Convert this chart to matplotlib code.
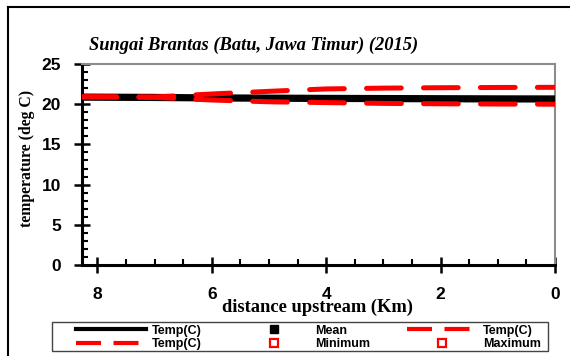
import matplotlib
matplotlib.use("Agg")
import matplotlib.pyplot as plt
from matplotlib.lines import Line2D
from matplotlib.patches import Rectangle
from matplotlib.ticker import MultipleLocator
from matplotlib.font_manager import FontProperties

plt.rcParams['lines.scale_dashes'] = False

# data
distance = [8.27, 7.0, 6.0, 5.0, 4.0, 3.0, 2.0, 1.0, 0.0]
temp_mean = [20.88, 20.84, 20.78, 20.75, 20.72, 20.70, 20.68, 20.66, 20.65]
temp_max = [20.92, 20.9, 21.27, 21.6, 21.9, 22.0, 22.05, 22.08, 22.1]
temp_min = [20.92, 20.85, 20.52, 20.3, 20.2, 20.1, 20.05, 20.02, 20.0]
x_ticks = [8, 6, 4, 2, 0]
y_ticks = [0, 5, 10, 15, 20, 25]
title = "Sungai Brantas (Batu, Jawa Timur) (2015)"

W, H = 570, 356
fig = plt.figure(figsize=(W / 100, H / 100), dpi=100)
ax = fig.add_axes([82 / W, 1 - 265 / H, (555 - 82) / W, (265 - 64) / H])

dash = (25, 16)
ax.plot(distance, temp_mean, color='black', lw=5.2, solid_capstyle='butt', zorder=3)
ax.plot(distance, temp_max, color='#ff0000', lw=3.6, dashes=dash,
        dash_capstyle='round', zorder=4)
ax.plot(distance, temp_min, color='#ff0000', lw=3.6, dashes=dash,
        dash_capstyle='round', zorder=4)

ax.set_xlim(8.27, 0)
ax.set_ylim(0, 25)
ax.set_xticks(x_ticks)
ax.set_yticks(y_ticks)
ax.xaxis.set_minor_locator(MultipleLocator(0.5))
ax.yaxis.set_minor_locator(MultipleLocator(1))

narrow = ['Liberation Sans Narrow', 'Liberation Sans']
tickfp = FontProperties(family=narrow, weight='bold', size=12.5)
ax.tick_params(which='major', direction='inout', length=12, width=1.8, color='black')
ax.tick_params(which='minor', direction='in', length=4, width=1.5, color='black')
ax.tick_params(axis='y', which='major', pad=9)
ax.tick_params(axis='x', which='major', pad=10)
for lbl in ax.get_xticklabels() + ax.get_yticklabels():
    lbl.set_fontproperties(tickfp)

for s in ['left', 'bottom']:
    ax.spines[s].set_linewidth(2.2)
    ax.spines[s].set_color('black')
for s in ['top', 'right']:
    ax.spines[s].set_linewidth(1.5)
    ax.spines[s].set_color('#8c8c8c')

fig.text(27 / W, 1 - 158 / H, "temperature (deg C)", family='Liberation Serif',
         weight='bold', fontsize=11.3, rotation=90, ha='center', va='center')
fig.text(318 / W, 1 - 307 / H, "distance upstream (Km)", family='Liberation Serif',
         weight='bold', fontsize=13.3, ha='center', va='center')
fig.text(89 / W, 1 - 45 / H, title, family='Liberation Serif', weight='bold',
         style='italic', fontsize=13.3, ha='left', va='center')

# legend
h_mean_line = Line2D([], [], color='black', lw=3)
h_dash1 = Line2D([], [], color='#ff0000', lw=3, dashes=(18, 9))
h_dash2 = Line2D([], [], color='#ff0000', lw=3, dashes=(18, 9))
h_mean = Line2D([], [], color='black', marker='s', ls='none', markersize=6)
h_min = Line2D([], [], color='#ff0000', marker='s', ls='none', markersize=5.5,
               markerfacecolor='white', markeredgewidth=1.6)
h_max = Line2D([], [], color='#ff0000', marker='s', ls='none', markersize=5.5,
               markerfacecolor='white', markeredgewidth=1.6)
handles = [h_mean_line, h_dash2, h_mean, h_min, h_dash1, h_max]
labels = ["Temp(C)", "Temp(C)", "Mean", "Minimum", "Temp(C)", "Maximum"]
leg = fig.legend(handles, labels, ncol=3, loc='center left',
                 bbox_to_anchor=(76 / W, 1 - 337.5 / H),
                 prop=FontProperties(family=narrow, weight='bold', size=9),
                 frameon=False, handlelength=5.6, handletextpad=0.48,
                 columnspacing=2.95, labelspacing=0.12, borderpad=0,
                 borderaxespad=0)
fig.add_artist(Rectangle((52 / W, 1 - 351 / H), (548 - 52) / W, 29 / H,
                         transform=fig.transFigure, facecolor='white',
                         edgecolor='#444444', lw=1.0, zorder=0))

# outer frame
fig.add_artist(Line2D([8 / W, 8 / W], [0, 1 - 7 / H], color='black', lw=1.5,
                      transform=fig.transFigure))
fig.add_artist(Line2D([8 / W, 1], [1 - 7 / H, 1 - 7 / H], color='black', lw=1.5,
                      transform=fig.transFigure))

fig.savefig("out.png", dpi=100)
